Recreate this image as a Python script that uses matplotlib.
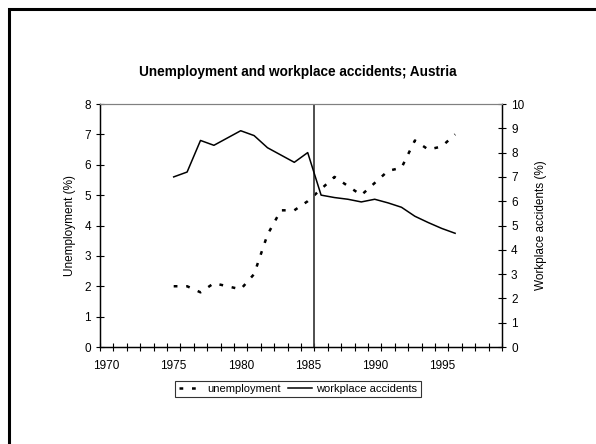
import matplotlib.pyplot as plt
from matplotlib.lines import Line2D
from matplotlib.patches import Rectangle

plt.rcParams['font.family'] = ['Liberation Sans', 'DejaVu Sans']

# Arbeitslosigkeit und Arbeitsunfaelle, Oesterreich
years = [1975, 1976, 1977, 1978, 1979, 1980, 1981, 1982, 1983, 1984, 1985,
         1986, 1987, 1988, 1989, 1990, 1991, 1992, 1993, 1994, 1995, 1996]
unemployment = [2.0, 2.0, 1.8, 2.1, 2.0, 1.9, 2.4, 3.7, 4.5, 4.5, 4.8,
                5.2, 5.6, 5.3, 5.0, 5.4, 5.8, 5.9, 6.8, 6.5, 6.6, 7.0]
accidents = [7.0, 7.2, 8.5, 8.3, 8.6, 8.9, 8.7, 8.2, 7.9, 7.6, 8.0,
             6.25, 6.15, 6.08, 5.97, 6.08, 5.93, 5.75, 5.38, 5.12, 4.88, 4.68]
year_labels = [1970, 1975, 1980, 1985, 1990, 1995]
break_year = 1985.5

fig = plt.figure(figsize=(5.96, 4.44), dpi=100)
# Rahmen um die Grafik (rechts und unten abgeschnitten)
fig.patches.append(Rectangle((9 / 596, -0.1), 1.2, 1 - 9 / 444 + 0.1, transform=fig.transFigure,
                             fill=False, edgecolor='black', linewidth=2.2))

ax = fig.add_axes([100 / 596, 1 - 347 / 444, 402 / 596, 243 / 444])
ax2 = ax.twinx()

ax.plot(years, unemployment, color='black', linestyle=(0, (1.5, 3.5)), linewidth=1.8)
ax2.plot(years, accidents, color='black', linewidth=1.1)
ax.axvline(break_year, color='#404040', linewidth=1.3)

ax.set_xlim(1969.5, 1999.5)
ax.set_ylim(0, 8)
ax2.set_ylim(0, 10)
ax.set_xticks(year_labels)
ax.set_xticks([1969.5 + i for i in range(31)], minor=True)
ax.tick_params(axis='x', which='major', length=0, labelsize=8.5, pad=9)
ax.tick_params(axis='x', which='minor', direction='inout', length=6, width=0.8)
ax.set_yticks(range(0, 9))
ax2.set_yticks(range(0, 11))
ax.tick_params(axis='y', direction='inout', length=6, width=0.8, labelsize=8.5)
ax2.tick_params(axis='y', direction='inout', length=6, width=0.8, labelsize=8.5)

for a in (ax, ax2):
    a.spines['top'].set_color('#808080')
    a.spines['left'].set_linewidth(0.9)
    a.spines['right'].set_linewidth(0.9)
    a.spines['bottom'].set_linewidth(0.9)

ax.set_ylabel('Unemployment (%)', fontsize=8.5, labelpad=6)
ax2.set_ylabel('Workplace accidents (%)', fontsize=8.5, labelpad=8)
fig.text(0.50, 1 - 72 / 444, 'Unemployment and workplace accidents; Austria',
         ha='center', va='center', fontsize=9.8, fontweight='bold')

handles = [Line2D([], [], color='black', linestyle=(0, (1.5, 3.5)), linewidth=1.8),
           Line2D([], [], color='black', linewidth=1.1)]
leg = fig.legend(handles, ['unemployment', 'workplace accidents'], loc='center',
                 bbox_to_anchor=(298 / 596, 1 - 389 / 444), ncol=2, fontsize=8,
                 frameon=True, fancybox=False, edgecolor='black', handlelength=2.2,
                 handletextpad=0.4, columnspacing=0.6, borderpad=0.3, borderaxespad=0)
leg.get_frame().set_linewidth(0.8)

fig.savefig('out.png', dpi=100)
